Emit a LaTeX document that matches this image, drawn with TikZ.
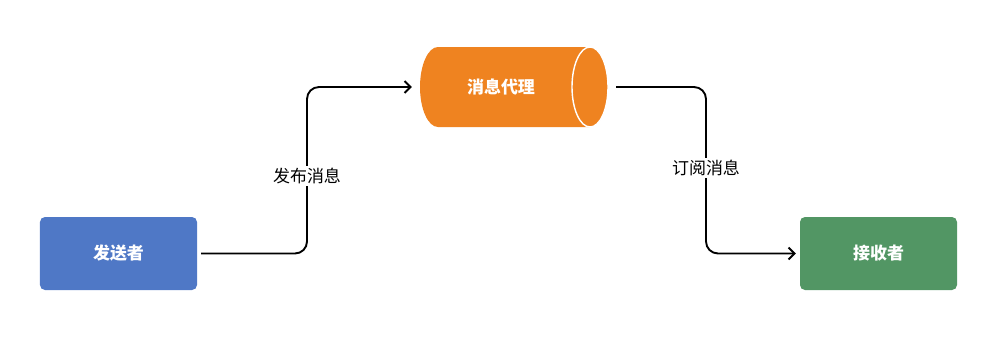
\documentclass[tikz,border=0pt]{standalone}
\usepackage{fontspec}
\setmainfont{Noto Sans CJK SC}
\usetikzlibrary{arrows.meta}
\definecolor{senderblue}{RGB}{79,120,198}
\definecolor{brokerorange}{RGB}{239,131,32}
\definecolor{receivergreen}{RGB}{82,150,100}

\begin{document}
\begin{tikzpicture}[x=0.03cm, y=0.03cm,
    box/.style={rounded corners=0.15cm, minimum width=4.71cm, minimum height=2.19cm,
      text=white, font=\fontsize{14.5}{16}\selectfont\bfseries},
    lbl/.style={fill=white, inner sep=2pt, font=\fontsize{14.5}{16}\selectfont},
    flow/.style={line width=1.6pt, rounded corners=0.36cm, -{Straight Barb[length=5pt, width=10pt, line width=1.6pt]}},
    every node/.style={font=\small}]
        \useasboundingbox (0,0) rectangle (1004,352);
        % Sender
        \node[box, fill=senderblue] (sender) at (118.5,98.5) {发送者};
        % Broker
        \fill[brokerorange] (438,305) -- (590,305) arc[start angle=90, end angle=-90, x radius=18, y radius=40]
          -- (438,225) arc[start angle=270, end angle=90, x radius=18, y radius=40] -- cycle;
        \draw[white, line width=1.2pt] (590,265) ellipse[x radius=18, y radius=40];
        \node[text=white, minimum width=5.64cm, minimum height=2.4cm,
          font=\fontsize{14.5}{16}\selectfont\bfseries] (broker) at (501,265) {消息代理};
        % Receiver
        \node[box, fill=receivergreen] (receiver) at (878.5,98.5) {接收者};
        % Arrows
        \coordinate (pubturn) at (307,176);
        \coordinate (subturn) at (706,184);
        \draw[flow] ([xshift=0.12cm]sender.east) -| (pubturn) |- ([xshift=0.15cm]broker.west);
        \draw[flow] ([xshift=0.63cm]broker.east) -| (subturn) |- ([xshift=-0.12cm]receiver.west);
        \node[lbl] (publbl) at (pubturn) {发布消息};
        \node[lbl] (sublbl) at (subturn) {订阅消息};
      \end{tikzpicture}
\end{document}
